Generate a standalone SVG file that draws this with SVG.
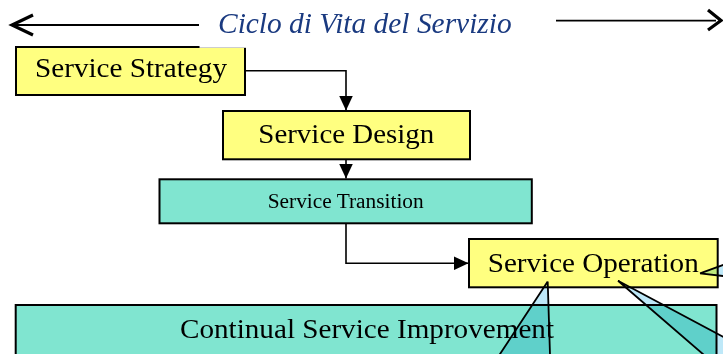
<svg xmlns="http://www.w3.org/2000/svg" width="723" height="354" viewBox="0 0 723 354">
  <style>
    .box { stroke: #000; stroke-width: 2; }
    .yellow { fill: #FFFF80; }
    .teal { fill: #80E5D0; }
    .lbl { font-family: "Liberation Serif", "Times New Roman", serif; fill: #000; }
    .big { font-size: 28px; }
    .conn { fill: none; stroke: #000; stroke-width: 1.6; }
    .chev { fill: none; stroke: #000; stroke-width: 3.2; stroke-linecap: butt; stroke-linejoin: miter; }
    .callout { fill: #BEE8F8; stroke: none; mix-blend-mode: multiply; }
    .cline { fill: none; stroke: #000; stroke-width: 1.8; }
  </style>
  <defs>
    <marker id="arr" viewBox="0 0 15 14" refX="15" refY="7" markerWidth="15" markerHeight="14" markerUnits="userSpaceOnUse" orient="auto">
      <path d="M0,0 L15,7 L0,14 z" fill="#000"/>
    </marker>
  </defs>
  <rect width="723" height="354" fill="#fff"/>

  <g id="service-strategy">
    <rect class="box yellow" x="16" y="47" width="229" height="48"/>
    <text class="lbl big" x="35" y="77" textLength="192" lengthAdjust="spacingAndGlyphs">Service Strategy</text>
  </g>

  <g id="service-design">
    <rect class="box yellow" x="223" y="111" width="247" height="48.3"/>
    <text class="lbl big" x="258.3" y="143.3" textLength="176" lengthAdjust="spacingAndGlyphs">Service Design</text>
  </g>

  <g id="service-transition">
    <rect class="box teal" x="159.5" y="179.3" width="372.3" height="44"/>
    <text class="lbl" font-size="20" x="267.7" y="208" textLength="156" lengthAdjust="spacingAndGlyphs">Service Transition</text>
  </g>

  <g id="service-operation">
    <rect class="box yellow" x="469" y="239" width="248.7" height="48.3"/>
    <text class="lbl big" x="487.7" y="271.7" textLength="211" lengthAdjust="spacingAndGlyphs">Service Operation</text>
  </g>

  <g id="continual-service-improvement">
    <rect class="box teal" x="15.7" y="305" width="700.8" height="80"/>
    <text class="lbl big" x="180" y="338.3" textLength="374" lengthAdjust="spacingAndGlyphs">Continual Service Improvement</text>
  </g>

  <g id="connectors">
    <path class="conn" d="M245,70.7 H346 V110.5" marker-end="url(#arr)"/>
    <path class="conn" d="M346,159.5 V178.5" marker-end="url(#arr)"/>
    <path class="conn" d="M346,223.3 V263.3 H468.5" marker-end="url(#arr)"/>
  </g>

  <g id="title">
    <rect x="199.5" y="0" width="356.5" height="47.8" fill="#fff"/>
    <line x1="12" y1="25" x2="199" y2="25" stroke="#000" stroke-width="1.8"/>
    <polyline class="chev" points="33,15 12,25 33,35"/>
    <line x1="556" y1="20.7" x2="716" y2="20.7" stroke="#000" stroke-width="1.8"/>
    <polyline class="chev" points="708,10 721,20.5 708,30"/>
    <text x="218" y="32.5" font-family="'Liberation Serif', 'Times New Roman', serif" font-style="italic" font-size="29" fill="#1A3A80" textLength="293.7" lengthAdjust="spacingAndGlyphs">Ciclo di Vita del Servizio</text>
  </g>

  <g id="callouts">
    <polygon class="callout" points="547.7,281.5 482.9,380 550.8,380"/>
    <polygon class="callout" points="618,280.7 733,380 760,356.4"/>
    <polygon class="callout" points="700,273.3 760,251.6 760,280.3"/>
    <path class="cline" d="M547.7,281.5 L482.9,380 M547.7,281.5 L550.8,380"/>
    <path class="cline" d="M618,280.7 L733,380 M618,280.7 L760,356.4"/>
    <path class="cline" d="M700,273.3 L760,251.6 M700,273.3 L760,280.3"/>
  </g>
</svg>
